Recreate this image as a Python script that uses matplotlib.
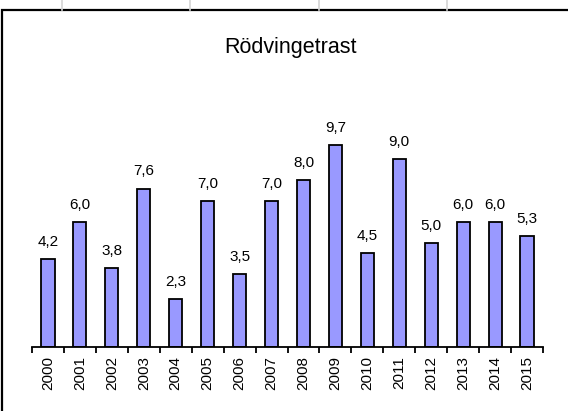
import matplotlib
matplotlib.use('Agg')
import matplotlib.pyplot as plt
from matplotlib.patches import Rectangle
from matplotlib.lines import Line2D

plt.rcParams['font.family'] = ['Liberation Sans', 'DejaVu Sans']

years = ['2000', '2001', '2002', '2003', '2004', '2005', '2006', '2007',
         '2008', '2009', '2010', '2011', '2012', '2013', '2014', '2015']
values = [4.2, 6.0, 3.8, 7.6, 2.3, 7.0, 3.5, 7.0,
          8.0, 9.7, 4.5, 9.0, 5.0, 6.0, 6.0, 5.3]
title = 'Rödvingetrast'

W, H = 568, 411
fig = plt.figure(figsize=(W / 100, H / 100), dpi=100)

# spreadsheet gridlines peeking above the chart frame
for gx in [62, 190, 319, 447]:
    fig.add_artist(Line2D([gx / W, gx / W], [1, (H - 10) / H], color='#d4d4d4',
                          lw=1.2, transform=fig.transFigure))

# chart frame (right and bottom edges fall outside the image)
fig.add_artist(Rectangle((2 / W, -0.1), 1.2, (H - 10) / H + 0.1, fill=False,
                         edgecolor='black', lw=1.6, transform=fig.transFigure))

ax = fig.add_axes([32 / W, (H - 347) / H, (543 - 32) / W, 250.2 / H])
x = list(range(len(years)))
ax.bar(x, values, width=0.41, color='#9999ff', edgecolor='black', linewidth=1.3)
for xi, v in zip(x, values):
    ax.annotate(f'{v:.1f}'.replace('.', ','), (xi, v), xytext=(0, 9.4),
                textcoords='offset points', ha='center', va='baseline', fontsize=11)

ax.set_xlim(-0.5, len(years) - 0.5)
ax.set_ylim(0, 12)
for s in ['left', 'right', 'top']:
    ax.spines[s].set_visible(False)
ax.spines['bottom'].set_linewidth(1.3)
ax.set_yticks([])
ax.set_xticks(x)
ax.set_xticklabels(years, rotation=90, fontsize=11)
ax.set_xticks([i - 0.5 for i in range(len(years) + 1)], minor=True)
ax.tick_params(axis='x', which='major', length=0, pad=6.5)
ax.tick_params(axis='x', which='minor', length=4, width=1.3, direction='out')
ax.patch.set_alpha(0)

fig.text(290 / W, (H - 47) / H, title, ha='center', va='center', fontsize=15.5)

fig.savefig('out.png', dpi=100)
